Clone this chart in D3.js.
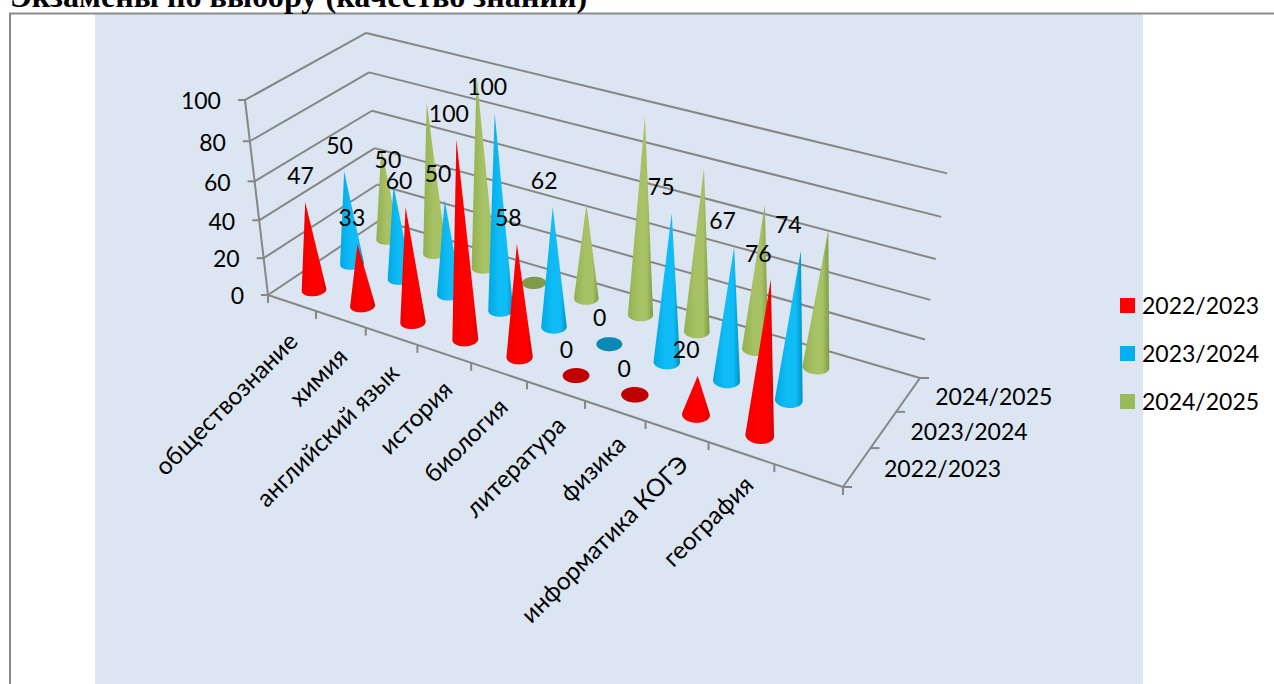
<!DOCTYPE html>
<html><head><meta charset="utf-8">
<script src="https://cdn.jsdelivr.net/npm/d3@7/dist/d3.min.js"></script>
<style>html,body{margin:0;padding:0;background:#fff;overflow:hidden}svg{display:block}</style>
</head><body><svg id="c" width="1274" height="684"></svg>
<script>
const categories = ["обществознание","химия","английский язык","история","биология","литература","физика","информатика КОГЭ","география",""];
const seriesNames = ["2022/2023","2023/2024","2024/2025"];
const values2022 = [47,33,60,100,58,0,0,20,76,null];
const values2023 = [50,50,50,100,62,0,75,67,74,null];
const values2024 = [50,80,100,0,50,100,83,73,69,null];
const yTicks = [0,20,40,60,80,100];
const seriesData = [values2022,values2023,values2024];
const labelled = [true,true,false];
const palette = [
  {l:"#f00000",m:"#ff0000",r:"#d80000",flat:"#c00000",key:"#ff0000"},
  {l:"#00a8e4",m:"#10bcf6",r:"#0090c4",flat:"#0a88b6",key:"#00b0f0"},
  {l:"#93b050",m:"#a6c264",r:"#7f9a46",flat:"#7f9a48",key:"#9bbb59"}
];
const FONT = "Lato, sans-serif";

/* projective camera: floor corners + vertical vanishing point */
const F = {x00:268,y00:295,x10:843,y10:487,x11:920,y11:378,x01:380,y01:220};
const V = {x:581,y:2947}, S = -0.0685;
const dx1=F.x10-F.x11, dx2=F.x01-F.x11, sx=F.x00-F.x10+F.x11-F.x01;
const dy1=F.y10-F.y11, dy2=F.y01-F.y11, sy=F.y00-F.y10+F.y11-F.y01;
const den=dx1*dy2-dx2*dy1;
const g=(sx*dy2-dx2*sy)/den, h=(dx1*sy-sx*dy1)/den;
const a=F.x10-F.x00+g*F.x10, b=F.x01-F.x00+h*F.x01;
const d=F.y10-F.y00+g*F.y10, e=F.y01-F.y00+h*F.y01;
function P(u,v,t){
  const s=t*S*(1+0.022*v-0.042*u), w=g*u+h*v+1+s;
  return [(a*u+b*v+F.x00+s*V.x)/w,(d*u+e*v+F.y00+s*V.y)/w];
}
const uScale=d3.scaleBand().domain(d3.range(categories.length)).range([0,1]);
const vScale=d3.scaleBand().domain(d3.range(seriesNames.length)).range([0,1]);
const yScale=d3.scaleLinear().domain([0,100]).range([0,1]);
const ink="#868686";
const svg=d3.select("#c");
const defs=svg.append("defs");
palette.forEach((p,i)=>{
  const gr=defs.append("linearGradient").attr("id","g"+i).attr("x1",0).attr("x2",1).attr("y1",0).attr("y2",0);
  [[0,p.l],[.45,p.m],[.75,p.m],[1,p.r]].forEach(s=>gr.append("stop").attr("offset",s[0]).attr("stop-color",s[1]));
});
svg.append("rect").attr("x",95).attr("y",14).attr("width",1048).attr("height",670).attr("fill","#dce6f2");
svg.append("path").attr("d","M10,684V13.5H1274").attr("fill","none").attr("stroke","#8c8c8c").attr("stroke-width",2);
svg.append("text").attr("x",10).attr("y",7).attr("font-family","'Liberation Serif',serif").attr("font-weight","bold").attr("font-size",32.2).text("Экзамены по выбору (качество знаний)");

const line=(p,q)=>svg.append("line").attr("x1",p[0]).attr("y1",p[1]).attr("x2",q[0]).attr("y2",q[1]).attr("stroke",ink).attr("stroke-width",2);
yTicks.forEach(t=>{
  const A=P(0,0,yScale(t)),B=P(0,1,yScale(t)),C=P(1,1,yScale(t));
  line(A,B);line(B,C);line([A[0]-7,A[1]],A);
  svg.append("text").attr("x",A[0]-24).attr("y",A[1]+1).attr("dy",".36em").attr("text-anchor","end").attr("font-family",FONT).attr("font-size",23).text(t);
});
line(P(0,0,0),P(0,0,1));
line(P(0,0,0),P(1,0,0));
line(P(1,0,0),P(1,1,0));
d3.range(categories.length+1).forEach(i=>{const p=P(i/categories.length,0,0);line(p,[p[0],p[1]+8]);});
d3.range(seriesNames.length+1).forEach(j=>{const p=P(1,j/seriesNames.length,0);line(p,[p[0]+9,p[1]]);});

const R=0.2;
const cu=i=>uScale(i)+uScale.bandwidth()/2+0.005, cv=j=>vScale(j)+vScale.bandwidth()/2;
const gen=d3.line();
for(let j=seriesNames.length-1;j>=0;j--){
  seriesData[j].forEach((val,i)=>{
    if(val==null) return;
    const circle=d3.range(72).map(k=>{const th=k/72*2*Math.PI;
      return P(cu(i)+R*uScale.bandwidth()*Math.cos(th),cv(j)+R*vScale.bandwidth()*Math.sin(th),0);});
    if(val===0){
      svg.append("path").attr("d",gen(circle)+"Z").attr("fill",palette[j].flat);
    } else {
      const hull=d3.polygonHull(circle.concat([P(cu(i),cv(j),yScale(val))]));
      svg.append("path").attr("d",gen(hull)+"Z").attr("fill","url(#g"+j+")");
    }
  });
}
/* data labels */
seriesData.forEach((vals,j)=>{ if(!labelled[j]) return;
  vals.forEach((val,i)=>{ if(val==null) return;
    const t=P(cu(i),cv(j),yScale(val));
    svg.append("text").attr("x",t[0]-4-10*cu(i)).attr("y",t[1]-26).attr("dy",".36em").attr("text-anchor","middle").attr("font-family",FONT).attr("font-size",23).text(val);
  });
});
/* category labels */
categories.forEach((c,i)=>{ if(!c) return;
  const u=uScale(i)+uScale.bandwidth()/2, p=P(u,0,0);
  svg.append("text").attr("transform",`translate(${p[0]+1+8*u},${p[1]+34-8*u}) rotate(-45)`).attr("text-anchor","end").attr("dy",".36em").attr("font-family",FONT).attr("font-size",24.5).text(c);
});
/* depth labels */
seriesNames.forEach((s,j)=>{
  const p=P(1,vScale(j)+vScale.bandwidth()/2,0);
  svg.append("text").attr("x",p[0]+27).attr("y",p[1]+2).attr("dy",".36em").attr("font-family",FONT).attr("font-size",23).text(s);
});
/* legend */
const legY=d3.scalePoint().domain(seriesNames).range([306,402]);
seriesNames.forEach((s,j)=>{
  svg.append("rect").attr("x",1120).attr("y",legY(s)-8).attr("width",15).attr("height",15).attr("fill",palette[j].key);
  svg.append("text").attr("x",1142).attr("y",legY(s)).attr("dy",".36em").attr("font-family",FONT).attr("font-size",23).text(s);
});
</script></body></html>
